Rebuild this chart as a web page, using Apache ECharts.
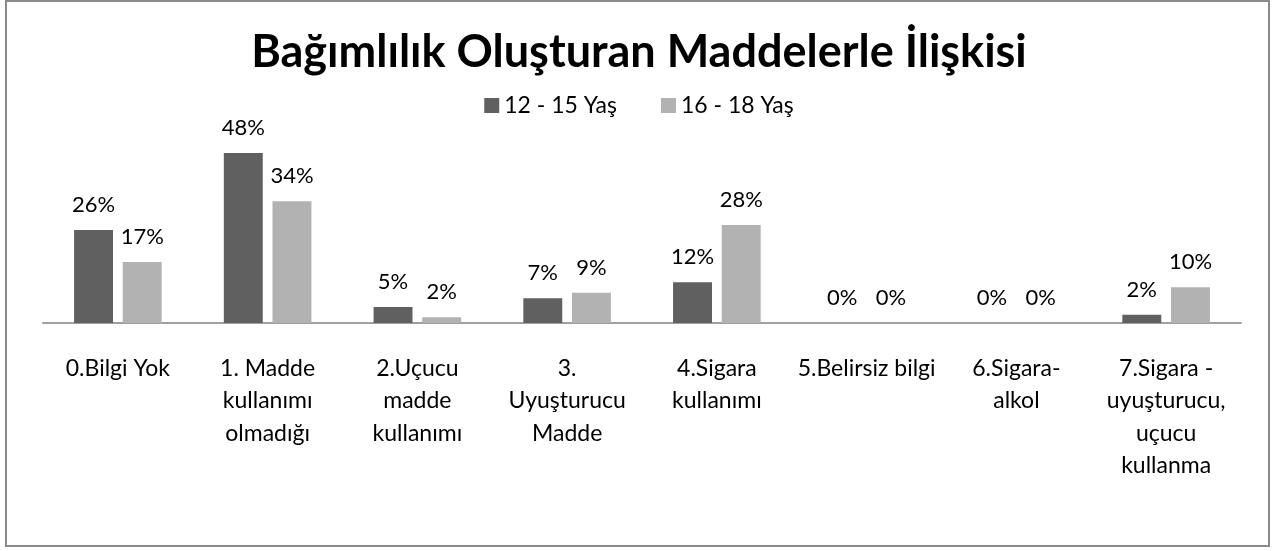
<!DOCTYPE html>
<html><head><meta charset="utf-8">
<script src="https://cdn.jsdelivr.net/npm/echarts@6/dist/echarts.min.js"></script>
<style>html,body{margin:0;padding:0;background:#fff}#c{width:1278px;height:551px}</style>
</head><body><div id="c"></div>
<script>
const titleText = 'Bağımlılık Oluşturan Maddelerle İlişkisi';
const categories = ['0.Bilgi Yok', '1. Madde\nkullanımı\nolmadığı', '2.Uçucu\nmadde\nkullanımı', '3.\nUyuşturucu\nMadde', '4.Sigara\nkullanımı', '5.Belirsiz bilgi', '6.Sigara-\nalkol', '7.Sigara -\nuyuşturucu,\nuçucu\nkullanma'];
const seriesNames = ['12 - 15 Yaş', '16 - 18 Yaş'];
const age12to15 = [26.2, 47.9, 4.5, 7.0, 11.5, 0, 0, 2.3];
const age16to18 = [17.2, 34.3, 1.6, 8.5, 27.6, 0, 0, 10.1];

const FONT = 'Lato';
const chart = echarts.init(document.getElementById('c'), null, {renderer: 'canvas'});
const lbl = {show: true, position: 'top', distance: 14, color: '#000', fontSize: 22, fontFamily: FONT,
  formatter: p => Math.round(p.value) + '%'};
chart.setOption({
  animation: false,
  backgroundColor: '#fff',
  title: {text: titleText, left: 'center', top: 25,
    textStyle: {fontFamily: FONT, fontWeight: 'bold', fontSize: 45, color: '#000'}},
  legend: {top: 89, left: 'center', itemWidth: 15, itemHeight: 15, itemGap: 44, icon: 'rect',
    textStyle: {fontFamily: FONT, fontSize: 23, color: '#000'}, data: seriesNames},
  grid: {left: 43, right: 37, top: 145.5, bottom: 228, containLabel: false},
  xAxis: {type: 'category', data: categories,
    axisLine: {lineStyle: {color: '#a0a0a0', width: 2}},
    axisTick: {show: false},
    axisLabel: {interval: 0, margin: 29, color: '#000', fontSize: 23, fontFamily: FONT, lineHeight: 32.5}},
  yAxis: {type: 'value', min: 0, max: 50, show: false, splitLine: {show: false}},
  series: [
    {name: seriesNames[0], type: 'bar', data: age12to15, barWidth: '26%', barGap: '25%',
      itemStyle: {color: '#606060'}, label: lbl},
    {name: seriesNames[1], type: 'bar', data: age16to18, barWidth: '26%',
      itemStyle: {color: '#b2b2b2'}, label: lbl}
  ],
  graphic: [{type: 'rect', shape: {x: 6, y: 1, width: 1263, height: 545}, silent: true,
    style: {fill: 'none', stroke: '#8a8a8a', lineWidth: 2}}]
});
</script></body></html>
